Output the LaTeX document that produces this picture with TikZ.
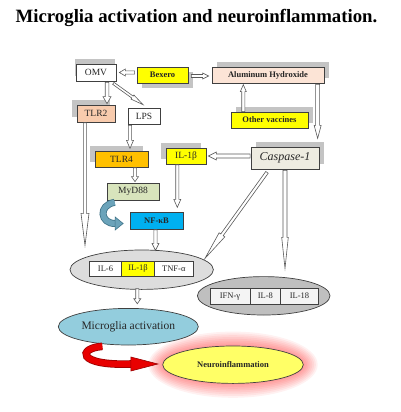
\documentclass[tikz,border=0pt]{standalone}
\usepackage{fontspec}
\setmainfont{Liberation Serif}
\usetikzlibrary{calc,shapes.geometric,shadows}
\definecolor{boxline}{HTML}{404040}
\definecolor{txt}{HTML}{262626}
\definecolor{shadowc}{HTML}{C4C4C4}
\definecolor{arrline}{HTML}{5A5A5A}
\definecolor{yel}{HTML}{FFFF00}
\definecolor{peach}{HTML}{FCE4D6}
\definecolor{tlrtwo}{HTML}{F8CBAD}
\definecolor{orangeb}{HTML}{FFC000}
\definecolor{greenb}{HTML}{D8E4BC}
\definecolor{blueb}{HTML}{00B0F0}
\definecolor{caspc}{HTML}{EEECE1}
\definecolor{ellA}{HTML}{DDDDDD}
\definecolor{ellB}{HTML}{BFBFBF}
\definecolor{cellc}{HTML}{F4F4F4}
\definecolor{micro}{HTML}{93CDDD}
\definecolor{neuro}{HTML}{FFFF66}
\definecolor{tealc}{HTML}{6BA3BA}
\definecolor{tealdark}{HTML}{3F7388}
\definecolor{redc}{HTML}{E80000}
\definecolor{reddark}{HTML}{9A0000}
\tikzset{
  box/.style={draw=boxline, line width=0.7pt, rectangle, inner sep=0pt, text=txt, font=\fontsize{9.5}{10}\selectfont},
  sh/.style={general shadow={fill=shadowc, #1}},
  cell/.style={draw=boxline, line width=0.6pt, rectangle, inner sep=0pt, text=txt, font=\fontsize{8.5}{9}\selectfont},
  oval/.style={draw=boxline, line width=0.7pt, ellipse, inner sep=0pt},
  barrowstyle/.style={fill=white, draw=arrline, line width=0.6pt, line join=miter}
}
\newcommand{\barrow}[5]{%
  \coordinate (bS) at (#1);
  \coordinate (bE) at (#2);
  \coordinate (bH) at ($(bE)!#3!(bS)$);
  \filldraw[barrowstyle] ($(bS)!#5!90:(bE)$) -- ($(bH)!#5!-90:(bS)$) -- ($(bH)!#4!-90:(bS)$) -- (bE) -- ($(bH)!#4!90:(bS)$) -- ($(bH)!#5!90:(bS)$) -- ($(bS)!#5!-90:(bE)$) -- cycle;
}
\begin{document}
\begin{tikzpicture}[x=1pt,y=-1pt]
\useasboundingbox[fill=white] (0,0) rectangle (400,412);

% title
\node[font=\fontsize{18.8}{21}\bfseries, text=black, anchor=base] (title) at (196.5,23) {Microglia activation and neuroinflammation.};

% boxes
\node[box, sh={shadow xshift=-1pt, shadow yshift=5pt}, fill=white, minimum width=40pt, minimum height=17pt] (omv) at (96,72.5) {OMV};
\node[box, sh={shadow xshift=5pt, shadow yshift=-5pt}, fill=yel, minimum width=51pt, minimum height=16pt, font=\fontsize{8.5}{9}\bfseries] (bexero) at (162.5,75) {Bexero};
\node[box, sh={shadow xshift=5pt, shadow yshift=5pt}, fill=peach, minimum width=112pt, minimum height=16pt, font=\fontsize{8.5}{9}\bfseries] (alum) at (268,75) {Aluminum Hydroxide};
\node[box, sh={shadow xshift=5pt, shadow yshift=5pt}, fill=yel, minimum width=77pt, minimum height=16pt, font=\fontsize{8.5}{9}\bfseries] (ovacc) at (269.5,120) {Other vaccines};
\node[box, sh={shadow xshift=5pt, shadow yshift=5pt}, fill=caspc, minimum width=68pt, minimum height=22pt, font=\fontsize{12}{13}\itshape] (casp) at (285,158) {Caspase-1};
\node[box, sh={shadow xshift=-5pt, shadow yshift=5pt}, fill=yel, minimum width=40pt, minimum height=16pt] (il1b) at (186,156) {IL-1β};
\node[box, sh={shadow xshift=-5pt, shadow yshift=5pt}, fill=tlrtwo, minimum width=38pt, minimum height=17pt] (tlr2) at (96,113.5) {TLR2};
\node[box, fill=white, minimum width=32pt, minimum height=16pt] (lps) at (144,116) {LPS};
\node[box, sh={shadow xshift=-5pt, shadow yshift=5pt}, fill=orangeb, minimum width=53pt, minimum height=16pt] (tlr4) at (121.5,159) {TLR4};
\node[box, fill=greenb, minimum width=52pt, minimum height=17pt] (myd) at (133,191.5) {MyD88};
\node[box, fill=blueb, minimum width=53pt, minimum height=17pt, font=\fontsize{8.5}{9}\bfseries] (nfkb) at (156.5,220.5) {NF-κB};

% ellipses with cytokines
\node[oval, fill=ellA, minimum width=143.4pt, minimum height=39.4pt] (e1) at (141.7,269.7) {};
\node[cell, fill=white, minimum width=32.4pt, minimum height=15pt] (il6) at (105.5,268.5) {IL-6};
\node[cell, fill=yel, minimum width=32.6pt, minimum height=15pt] (il1bb) at (138,268.5) {IL-1β};
\node[cell, fill=white, minimum width=39pt, minimum height=15pt] (tnf) at (173.8,268.5) {TNF-α};

\node[oval, fill=ellB, minimum width=132.6pt, minimum height=38.4pt] (e2) at (263.7,295.8) {};
\node[cell, fill=cellc, minimum width=40pt, minimum height=15.7pt] (ifn) at (230,296.2) {IFN-γ};
\node[cell, fill=cellc, minimum width=30.7pt, minimum height=15.7pt] (il8) at (265.3,296.2) {IL-8};
\node[cell, fill=cellc, minimum width=37.6pt, minimum height=15.7pt] (il18) at (299.5,296.2) {IL-18};

% microglia
\node[oval, fill=micro, minimum width=140pt, minimum height=36.6pt, text=txt, font=\fontsize{11.5}{12}\selectfont] (mic) at (128.3,326.7) {Microglia activation};

% neuroinflammation with glow
\foreach \k in {8,...,1}
  \fill[red, opacity=0.055] (233,364.7) ellipse [x radius={70.3+1.8*\k}, y radius={18.7+1.8*\k}];
\node[oval, fill=neuro, minimum width=140.6pt, minimum height=37.4pt, text=txt, font=\fontsize{8.5}{9}\bfseries] (neu) at (233,364.7) {Neuroinflammation};

% block arrows
\barrow{$(bexero.west |- omv.east)+(-2,0)$}{$(omv.east)+(3,0)$}{6pt}{3.5pt}{1.6pt}
\barrow{$(bexero.east)+(3,1)$}{$(alum.west)+(-3,1)$}{6pt}{3pt}{1.5pt}
\barrow{$(omv.south)+(11,1)$}{$(tlr2.north)+(11,-1)$}{7pt}{4pt}{1.8pt}
\barrow{$(omv.south east)+(-3,2)$}{$(lps.north)+(-1,-3)$}{13pt}{2.5pt}{1.2pt}
\barrow{$(lps.south)+(-14,1)$}{$(lps.south)+(-14,24)$}{8pt}{3.5pt}{1.6pt}
\coordinate (tlr2end) at ($(tlr2.south)+(-11,123)$);
\barrow{$(tlr2.south)+(-11,0.5)$}{tlr2end}{32pt}{4pt}{1.4pt}
\barrow{$(tlr4.south)+(13.5,0.5)$}{$(myd.north)+(2,-1)$}{5pt}{3.5pt}{1.6pt}
\barrow{$(il1b.south)+(-8.7,0.5)$}{$(il1b.south)+(-8.7,43)$}{8pt}{3.5pt}{1.6pt}
\barrow{$(nfkb.south)+(-1,0.5)$}{$(nfkb.south)+(-1,21)$}{7pt}{3.5pt}{1.6pt}
\barrow{$(casp.west |- il1b.east)+(-0.5,0)$}{$(il1b.east)+(2,0)$}{8pt}{4pt}{2pt}
\barrow{$(alum.south east)+(-6.7,1)$}{$(alum.south east)+(-6.7,55)$}{13pt}{3.5pt}{2pt}
\barrow{$(ovacc.north)+(-26.2,0)$}{$(ovacc.north)+(-26.2,-27)$}{7pt}{3pt}{1.6pt}
\coordinate (caspend) at ($(casp.south)+(-80,89)$);
\barrow{$(casp.south)+(-18,3)$}{caspend}{29pt}{3.5pt}{1.5pt}
\barrow{$(casp.south)+(0,1)$}{$(casp.south)+(0,99)$}{31pt}{3.3pt}{2pt}
\barrow{$(e1.south)+(-4.4,-1)$}{$(e1.south)+(-4.4,14)$}{5pt}{3.5pt}{1.6pt}

% teal curved arrow MyD88 -> NF-kB
\coordinate (tS) at ($(myd.south west)+(8,2)$);
\coordinate (tE) at ($(nfkb.west)+(-14,3)$);
\draw[tealdark, line width=7pt] (tS) .. controls (98,205) and (100,224) .. (tE);
\draw[tealc, line width=5.4pt] (tS) .. controls (98,205) and (100,224) .. (tE);
\filldraw[fill=tealc, draw=tealdark, line width=0.6pt] ($(tE)+(-0.5,-6.5)$) -- ($(tE)+(7.5,0)$) -- ($(tE)+(-0.5,6.5)$) -- cycle;

% red curved arrow Microglia -> Neuroinflammation
\coordinate (rS) at ($(mic.south)+(-26,1)$);
\coordinate (rE) at ($(neu.west)+(-31,-0.7)$);
\draw[reddark, line width=7.6pt] (rS) .. controls (78,348) and (76,366) .. (rE);
\draw[redc, line width=6pt] (rS) .. controls (78,348) and (76,366) .. (rE);
\filldraw[fill=redc, draw=reddark, line width=0.6pt] ($(rE)+(-0.5,-7)$) -- ($(rE)+(26.5,0)$) -- ($(rE)+(-0.5,7)$) -- cycle;
\end{tikzpicture}
\end{document}
